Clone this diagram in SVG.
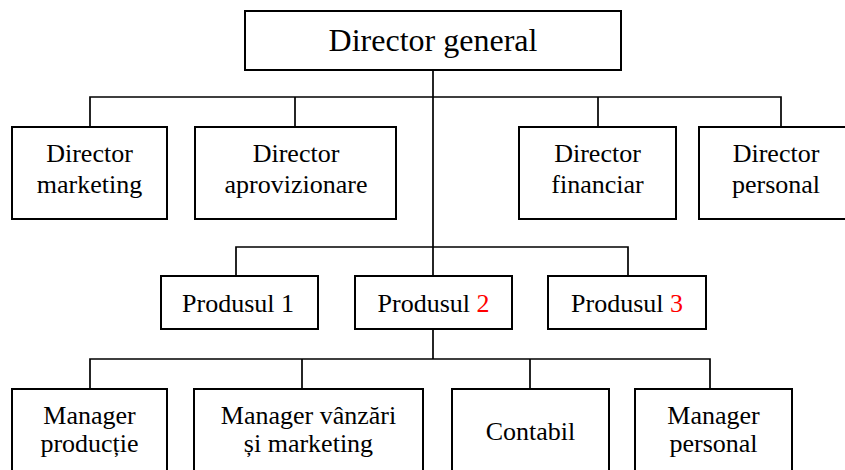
<svg xmlns="http://www.w3.org/2000/svg" width="845" height="470" viewBox="0 0 845 470">
<style>
.box{fill:#fff;stroke:#000;stroke-width:2}
.ln{fill:none;stroke:#000;stroke-width:1.7}
text{font-family:"Liberation Serif","Times New Roman",serif;font-size:26px;fill:#000;text-anchor:middle}
.big{font-size:32px}
.red{fill:#ff0000}
</style>
<rect width="845" height="470" fill="#fff"/>
<g id="connectors">
<path class="ln" d="M433,70 V276 M433,329 V359"/>
<path class="ln" d="M90,127 V97 H781 V127 M295,97 V127 M598,97 V127"/>
<path class="ln" d="M236,276 V247 H628 V276"/>
<path class="ln" d="M90,389 V359 H710 V389 M302,359 V389 M530,359 V389"/>
</g>
<g id="director-general">
<rect class="box" x="245" y="11" width="376" height="59"/>
<text class="big" x="433" y="51">Director general</text>
</g>
<g id="director-marketing">
<rect class="box" x="12" y="127" width="155" height="92"/>
<text x="89.5" y="162">Director</text>
<text x="89.5" y="193">marketing</text>
</g>
<g id="director-aprovizionare">
<rect class="box" x="195" y="127" width="201" height="92"/>
<text x="296" y="162">Director</text>
<text x="296" y="193">aprovizionare</text>
</g>
<g id="director-financiar">
<rect class="box" x="519" y="127" width="157" height="92"/>
<text x="597.5" y="162">Director</text>
<text x="597.5" y="193">financiar</text>
</g>
<g id="director-personal">
<rect class="box" x="699" y="127" width="155" height="92"/>
<text x="776" y="162">Director</text>
<text x="776" y="193">personal</text>
</g>
<g id="produsul-1">
<rect class="box" x="161" y="276" width="157" height="53"/>
<text x="238" y="311.5">Produsul 1</text>
</g>
<g id="produsul-2">
<rect class="box" x="355" y="276" width="157" height="53"/>
<text x="433.5" y="311.5">Produsul <tspan class="red">2</tspan></text>
</g>
<g id="produsul-3">
<rect class="box" x="548" y="276" width="158" height="53"/>
<text x="627" y="311.5">Produsul <tspan class="red">3</tspan></text>
</g>
<g id="manager-productie">
<rect class="box" x="12" y="389" width="155" height="92"/>
<text x="89.5" y="423.5">Manager</text>
<text x="89.5" y="452">producție</text>
</g>
<g id="manager-vanzari">
<rect class="box" x="194" y="389" width="229" height="92"/>
<text x="308.5" y="423.5">Manager vânzări</text>
<text x="308.5" y="452">și marketing</text>
</g>
<g id="contabil">
<rect class="box" x="452" y="389" width="157" height="92"/>
<text x="530.5" y="439.5">Contabil</text>
</g>
<g id="manager-personal">
<rect class="box" x="635" y="389" width="157" height="92"/>
<text x="713.5" y="423.5">Manager</text>
<text x="713.5" y="452">personal</text>
</g>
</svg>
